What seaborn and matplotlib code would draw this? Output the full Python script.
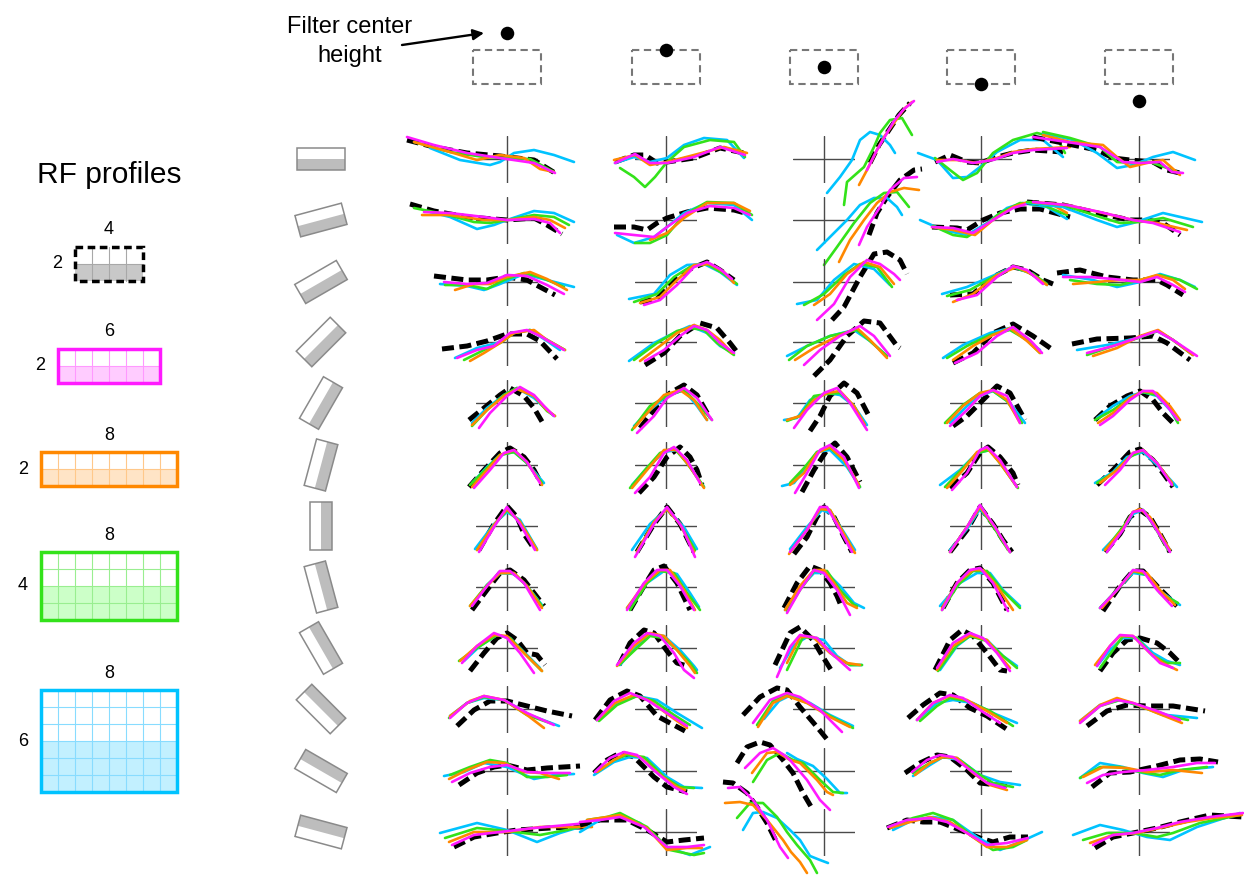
import numpy as np
import pandas as pd
import matplotlib
matplotlib.use("Agg")
import matplotlib.pyplot as plt
from matplotlib.patches import Rectangle, Polygon
import seaborn as sns

sns.set_style("white")
plt.rcParams["font.family"] = ["Liberation Sans", "DejaVu Sans"]
plt.rcParams["text.color"] = "black"

# ---------------------------------------------------------------------------
# Layout constants (pixels on a 1244 x 875 canvas)
W, H = 1244, 875
COL_X = [507, 666, 824, 981, 1139]
ROW_Y = [159, 220, 282, 342, 403, 465, 526, 587, 648, 709, 771, 832]
HALF_W, HALF_H = 31, 23.5          # crosshair half extents

# ---------------------------------------------------------------------------
# Data
ORIENTATIONS = [0, 15, 30, 45, 60, 75, 90, 105, 120, 135, 150, 165]   # bar angle (deg)
FILTER_HEIGHTS = [2, 1, 0, -1, -2]                                    # filter centre (cells)
PROFILE_NAMES = ["black", "magenta", "orange", "green", "cyan"]
PROFILE_W = [4, 6, 8, 8, 8]
PROFILE_H = [2, 2, 2, 4, 6]

# Tuning curves: for every orientation row and RF profile, one curve per
# filter-centre column, given as (position, response) pairs.
r01_black = [
    [(-100,19),(-73,12),(-40,6),(-7,3),(27,-1),(48,-14)],
    [(-51,-3),(-32,4),(-21,4),(-9,-4),(1,-3),(28,1),(54,11),(78,6)],
    [(46,-4),(55,14),(63,26),(75,44),(86,56)],
    [(-46,-3),(-31,4),(-14,-3),(-1,-4),(16,2),(32,6),(52,9),(82,7)],
    [(-106,22),(-76,16),(-42,9),(-26,1),(-9,-1),(14,-3),(28,-11),(41,-14)],
]
r01_magenta = [
    [(-100,22),(-73,14),(-40,6),(-7,1),(27,-4),(48,-14)],
    [(-51,-4),(-31,5),(-16,-4),(1,-4),(28,2),(54,12),(79,4)],
    [(43,-11),(53,9),(63,26),(70,38),(80,50),(90,58)],
    [(-44,-3),(-28,0),(-8,-4),(12,-1),(32,6),(52,9),(86,11)],
    [(-106,22),(-72,17),(-39,12),(-16,-3),(1,-4),(21,-3),(33,-13),(44,-14)],
]
r01_orange = [
    [(-93,17),(-57,7),(-30,-1),(-7,4),(17,1),(33,-10),(47,-13)],
    [(-52,-1),(-31,4),(-16,-6),(1,-3),(28,4),(58,12),(81,6)],
    [(35,-26),(43,-11),(53,9),(60,22),(70,36),(80,50),(88,57)],
    [(-44,-1),(-24,-1),(-4,-4),(16,1),(32,7),(52,10),(89,12)],
    [(-96,24),(-69,17),(-36,14),(-22,2),(-9,-8),(8,-4),(24,-1),(41,-16)],
]
r01_green = [
    [(-93,17),(-57,7),(-23,2),(0,1),(23,0),(47,-13)],
    [(-46,-9),(-32,-18),(-21,-28),(-11,-18),(1,-3),(18,12),(44,19),(68,17),(79,2)],
    [(20,-46),(23,-23),(40,-8),(50,12),(56,26),(66,39),(78,41),(88,24)],
    [(-46,1),(-31,-11),(-18,-21),(-4,-14),(12,6),(32,19),(56,26),(76,21),(84,6)],
    [(-96,27),(-69,21),(-39,12),(-22,-3),(-6,-4),(11,-3),(28,-9),(41,-14)],
]
r01_cyan = [
    [(-77,11),(-47,-1),(-17,-6),(-7,-3),(7,6),(27,9),(47,4),(67,-3)],
    [(-51,-4),(-32,2),(-16,-3),(1,1),(18,14),(38,21),(61,19),(78,1)],
    [(3,-34),(16,-18),(28,-1),(36,19),(46,27),(56,24),(66,14),(71,6)],
    [(-63,6),(-44,-1),(-28,-19),(-14,-18),(-1,-8),(16,7),(39,19),(62,19),(82,2)],
    [(-96,26),(-66,19),(-42,6),(-22,-9),(-6,-6),(14,2),(34,7),(56,-1)],
]

r02_black = [
    [(-97,16),(-73,9),(-40,3),(0,0),(27,2),(40,-5),(55,-14)],
    [(-52,-7),(-32,-7),(-19,-10),(-9,-3),(1,2),(21,8),(41,12),(68,10),(79,7)],
    [(45,-15),(53,7),(63,23),(76,40),(90,50),(98,51)],
    [(-49,-7),(-24,-8),(-14,-10),(2,0),(19,7),(39,11),(59,11),(89,3)],
    [(-112,18),(-76,15),(-42,7),(-9,0),(8,0),(24,-3),(41,-15)],
]
r02_magenta = [
    [(-83,8),(-57,7),(-23,3),(0,0),(27,1),(43,-3),(53,-13)],
    [(-51,-13),(-32,-15),(-12,-17),(1,-7),(21,7),(44,14),(68,12),(84,5)],
    [(35,-25),(43,-7),(56,13),(66,30),(80,42),(93,43)],
    [(-49,-7),(-28,-8),(-8,-13),(12,0),(32,12),(49,17),(79,15),(89,10)],
    [(-106,18),(-72,15),(-39,8),(-6,0),(14,-3),(41,-12)],
]
r02_orange = [
    [(-85,5),(-57,5),(-23,0),(0,0),(27,3),(43,0),(58,-8)],
    [(-16,-20),(1,-13),(18,2),(41,17),(68,17),(84,9)],
    [(15,-42),(26,-20),(40,0),(53,17),(66,28),(80,32),(95,30)],
    [(-49,-7),(-28,-10),(-6,-15),(12,0),(32,13),(47,18),(72,15),(86,7)],
    [(-106,18),(-72,15),(-36,7),(-6,0),(18,-3),(48,-10)],
]
r02_green = [
    [(-93,12),(-63,6),(-33,-2),(-17,-3),(0,0),(27,5),(47,3),(62,-5)],
    [(-31,-23),(-16,-23),(1,-15),(18,5),(41,18),(68,17),(86,5)],
    [(0,-45),(13,-27),(30,-3),(46,17),(60,27),(73,28),(85,13)],
    [(-48,-6),(-28,-15),(-14,-17),(2,-7),(19,7),(39,17),(62,15),(86,5)],
    [(-112,18),(-76,15),(-39,3),(-19,-3),(1,-2),(24,2),(54,-7)],
]
r02_cyan = [
    [(-77,8),(-57,3),(-30,-9),(-13,-5),(0,0),(27,9),(47,7),(67,-2)],
    [(-49,-15),(-32,-23),(-12,-17),(1,-7),(18,7),(41,17),(68,15),(86,0)],
    [(-7,-30),(6,-17),(23,0),(36,15),(50,22),(63,22),(73,13),(78,5)],
    [(-61,0),(-38,-10),(-14,-15),(6,-3),(26,12),(42,17),(66,13),(86,1)],
    [(-112,17),(-76,13),(-42,0),(-22,-7),(-6,-3),(24,7),(63,-2)],
]

r03_black = [
    [(-73,6),(-40,2),(-20,2),(0,5),(20,2),(33,-5),(48,-13)],
    [(-26,-20),(-9,-17),(8,2),(24,13),(41,20),(54,12),(68,2)],
    [(8,-38),(20,-25),(36,5),(50,28),(63,30),(76,22),(83,8)],
    [(-31,-13),(-8,-12),(12,5),(32,15),(46,12),(62,2),(72,-2)],
    [(-82,9),(-59,12),(-32,5),(-6,2),(18,2),(28,-3),(44,-13)],
]
r03_magenta = [
    [(-63,0),(-40,-2),(-20,-1),(0,7),(20,6),(40,-3),(57,-12)],
    [(-22,-23),(-6,-18),(11,-3),(28,15),(41,20),(54,13),(66,3)],
    [(-7,-38),(10,-22),(26,5),(43,22),(56,18),(70,8),(76,2)],
    [(-24,-18),(-4,-13),(16,5),(32,16),(46,12),(62,-2)],
    [(-76,5),(-49,5),(-26,3),(1,0),(18,5),(34,-3),(46,-10)],
]
r03_orange = [
    [(-52,-8),(-33,-2),(-17,-2),(0,5),(23,10),(40,3),(60,-8)],
    [(-26,-21),(-6,-15),(11,2),(28,17),(44,18),(58,10),(68,-1)],
    [(-10,-23),(6,-12),(23,8),(40,20),(56,15),(70,-2)],
    [(-28,-20),(-8,-12),(16,7),(36,15),(52,7),(66,-3)],
    [(-66,-2),(-42,0),(-19,2),(1,2),(18,7),(34,2),(46,-7)],
]
r03_green = [
    [(-62,-3),(-40,-3),(-20,-7),(-3,2),(17,9),(33,5),(57,-5)],
    [(-32,-20),(-9,-12),(8,5),(24,15),(41,18),(58,8),(71,-2)],
    [(-20,-23),(0,-12),(20,7),(36,18),(53,15),(68,-5)],
    [(-34,-14),(-11,-8),(12,5),(32,15),(52,8),(66,-2)],
    [(-69,2),(-42,-2),(-19,-3),(1,2),(21,7),(41,2),(58,-7)],
]
r03_cyan = [
    [(-67,-2),(-40,-4),(-23,-8),(-7,-2),(17,8),(40,2),(67,-5)],
    [(-37,-17),(-12,-12),(4,7),(21,17),(38,18),(54,10),(71,-3)],
    [(-27,-22),(-7,-18),(10,2),(30,18),(50,13),(66,-3)],
    [(-39,-12),(-14,-5),(9,5),(32,15),(52,8),(66,-3)],
    [(-76,7),(-46,2),(-22,-5),(1,0),(21,8),(41,2),(56,-5)],
]

r04_black = [
    [(-65,-7),(-40,-4),(-20,1),(0,8),(20,8),(33,1),(50,-17)],
    [(-21,-23),(-2,-11),(14,6),(34,19),(51,14),(64,-1),(71,-10)],
    [(-10,-34),(6,-18),(23,6),(40,21),(56,19),(73,-4),(76,-6)],
    [(-28,-21),(-8,-11),(12,9),(32,18),(52,6),(72,-8)],
    [(-67,-2),(-42,3),(-9,4),(14,6),(28,-1),(51,-18)],
]
r04_magenta = [
    [(-50,-16),(-30,-8),(-13,-4),(3,9),(20,12),(33,6),(57,-8)],
    [(-21,-19),(-2,-8),(14,6),(28,16),(41,12),(54,-1),(68,-11)],
    [(-20,-23),(-4,-8),(16,6),(36,16),(50,6),(66,-14)],
    [(-26,-21),(-4,-11),(16,6),(32,15),(49,2),(61,-11)],
    [(-52,-11),(-26,-4),(-2,4),(18,11),(34,2),(58,-14)],
]
r04_orange = [
    [(-37,-19),(-23,-11),(-7,-1),(7,9),(27,12),(40,2),(58,-8)],
    [(-26,-19),(-6,-4),(11,9),(28,17),(41,12),(54,2),(66,-11)],
    [(-29,-18),(-10,-6),(10,4),(33,14),(46,2),(63,-16)],
    [(-28,-18),(-8,-4),(12,7),(29,14),(46,1),(59,-11)],
    [(-46,-14),(-22,-6),(1,6),(19,12),(34,2),(54,-13)],
]
r04_green = [
    [(-43,-18),(-23,-8),(-7,-1),(7,9),(23,12),(37,4),(58,-8)],
    [(-32,-18),(-9,-1),(11,11),(24,14),(38,12),(51,-1),(68,-13)],
    [(-35,-18),(-17,-4),(6,6),(33,12),(46,1),(63,-14)],
    [(-34,-16),(-14,-4),(9,7),(29,12),(46,2),(59,-11)],
    [(-52,-13),(-26,-4),(-1,4),(19,11),(34,2),(54,-13)],
]
r04_cyan = [
    [(-52,-16),(-30,-6),(-10,-1),(7,9),(23,12),(40,1),(53,-8)],
    [(-37,-19),(-12,-1),(8,9),(24,16),(41,9),(54,-4),(68,-11)],
    [(-37,-14),(-17,-4),(6,6),(30,12),(46,1),(63,-14)],
    [(-38,-16),(-18,-3),(9,9),(29,14),(46,2),(59,-8)],
    [(-62,-8),(-32,-3),(-2,4),(18,11),(34,2),(54,-13)],
]

r05_black = [
    [(-38,-17),(-23,-5),(-7,8),(3,15),(17,7),(27,-5),(37,-22)],
    [(-26,-25),(-9,-3),(4,10),(18,18),(31,8),(44,-15)],
    [(-14,-28),(-4,-13),(6,7),(20,20),(33,10),(45,-13)],
    [(-28,-23),(-14,-13),(-1,0),(16,17),(29,10),(44,-17)],
    [(-44,-17),(-29,-3),(-12,7),(1,12),(14,3),(24,-10),(36,-22)],
]
r05_magenta = [
    [(-28,-25),(-17,-10),(0,7),(13,16),(27,8),(37,-3),(47,-13)],
    [(-29,-30),(-12,-13),(1,5),(18,15),(31,5),(46,-17)],
    [(-30,-25),(-17,-7),(0,10),(13,15),(26,0),(43,-27)],
    [(-31,-23),(-14,-7),(-1,7),(12,13),(26,7),(39,-20)],
    [(-39,-22),(-26,-13),(-9,3),(4,12),(14,12),(28,-3),(39,-17)],
]
r05_orange = [
    [(-35,-22),(-20,-7),(-3,7),(10,14),(27,7),(40,-7),(48,-13)],
    [(-32,-25),(-16,-7),(-2,8),(14,13),(28,3),(41,-17)],
    [(-37,-17),(-24,-13),(-10,3),(3,10),(16,12),(30,-3),(41,-22)],
    [(-34,-20),(-18,-3),(-1,10),(12,13),(26,3),(39,-20)],
    [(-41,-20),(-26,-10),(-9,5),(4,12),(18,10),(31,-3),(41,-17)],
]
r05_green = [
    [(-35,-23),(-20,-7),(-3,8),(10,15),(27,7),(40,-8),(48,-13)],
    [(-34,-27),(-16,-3),(1,7),(18,13),(31,0),(46,-17)],
    [(-37,-18),(-24,-13),(-10,7),(3,9),(16,10),(30,-3),(41,-23)],
    [(-36,-20),(-18,-2),(-1,10),(12,12),(26,2),(41,-20)],
    [(-44,-17),(-26,-7),(-9,5),(4,11),(18,8),(31,-5),(39,-20)],
]
r05_cyan = [
    [(-35,-20),(-20,-5),(-3,8),(10,15),(27,5),(40,-7),(47,-13)],
    [(-32,-23),(-16,-7),(1,7),(18,13),(31,-3),(41,-17)],
    [(-40,-17),(-27,-15),(-14,3),(3,10),(16,8),(30,-3),(43,-22)],
    [(-31,-20),(-14,-3),(-1,7),(12,12),(29,0),(44,-20)],
    [(-42,-15),(-26,-3),(-9,7),(4,11),(18,7),(31,-7),(38,-18)],
]

r06_black = [
    [(-38,-22),(-23,-5),(-7,12),(3,17),(17,8),(27,-5),(35,-20)],
    [(-27,-28),(-12,-12),(1,8),(14,18),(24,8),(31,-5),(36,-20)],
    [(-22,-27),(-10,-5),(3,15),(11,22),(23,8),(36,-17)],
    [(-31,-23),(-14,-8),(-1,12),(7,18),(19,8),(32,-8),(37,-20)],
    [(-42,-20),(-26,-5),(-9,13),(1,16),(14,5),(24,-8),(34,-22)],
]
r06_magenta = [
    [(-33,-23),(-17,-5),(-3,12),(7,15),(20,3),(33,-18)],
    [(-31,-28),(-16,-12),(-2,12),(8,18),(21,5),(34,-18)],
    [(-29,-28),(-17,-8),(-4,15),(6,20),(20,8),(35,-23)],
    [(-29,-25),(-14,-8),(-1,15),(6,18),(19,5),(36,-22)],
    [(-34,-20),(-19,-5),(-6,12),(4,15),(18,2),(33,-20)],
]
r06_orange = [
    [(-35,-22),(-20,-5),(-7,10),(7,15),(20,3),(35,-20)],
    [(-34,-23),(-19,-5),(-2,15),(11,15),(24,-2),(38,-23)],
    [(-34,-20),(-20,-8),(-7,12),(6,18),(20,5),(35,-20)],
    [(-34,-23),(-18,-5),(-4,13),(6,17),(19,2),(36,-22)],
    [(-39,-18),(-22,-5),(-6,12),(4,15),(18,2),(33,-18)],
]
r06_green = [
    [(-37,-20),(-20,-3),(-7,10),(7,13),(20,2),(35,-18)],
    [(-36,-23),(-21,-5),(-6,12),(8,17),(21,2),(38,-22)],
    [(-34,-18),(-20,-3),(-7,13),(6,17),(20,5),(36,-22)],
    [(-36,-22),(-18,-3),(-4,12),(9,15),(22,-2),(37,-23)],
    [(-42,-18),(-26,-8),(-9,8),(4,15),(18,2),(34,-20)],
]
r06_cyan = [
    [(-35,-18),(-20,-2),(-7,10),(7,13),(20,2),(37,-18)],
    [(-34,-20),(-19,-3),(-2,13),(11,15),(24,-2),(38,-22)],
    [(-42,-21),(-30,-18),(-20,-5),(-7,13),(6,15),(23,-2),(36,-22)],
    [(-41,-20),(-21,-5),(-4,12),(9,15),(22,-2),(36,-22)],
    [(-44,-18),(-26,-7),(-12,8),(4,13),(18,0),(38,-22)],
]

r07_black = [
    [(-28,-24),(-13,2),(0,20),(10,9),(17,-8),(28,-24)],
    [(-29,-26),(-12,2),(1,19),(14,2),(28,-26)],
    [(-30,-28),(-17,-11),(-7,9),(0,19),(10,9),(20,-11),(28,-26)],
    [(-31,-26),(-14,-4),(-1,19),(12,2),(22,-14),(31,-26)],
    [(-34,-26),(-19,-8),(-9,9),(1,16),(11,9),(21,-8),(31,-26)],
]
r07_magenta = [
    [(-28,-26),(-13,-1),(0,19),(13,2),(28,-24)],
    [(-31,-31),(-12,2),(1,19),(16,-1),(29,-31)],
    [(-34,-26),(-17,-4),(-4,19),(3,19),(16,-4),(28,-26)],
    [(-31,-26),(-14,-1),(-1,21),(14,-1),(29,-26)],
    [(-32,-26),(-16,-4),(-6,14),(4,16),(14,2),(31,-26)],
]
r07_orange = [
    [(-30,-24),(-13,1),(0,17),(13,4),(30,-24)],
    [(-29,-26),(-12,4),(1,17),(14,2),(28,-26)],
    [(-35,-28),(-17,-4),(-4,17),(6,16),(20,-8),(31,-27)],
    [(-31,-26),(-14,-1),(-1,19),(14,-1),(29,-26)],
    [(-34,-24),(-16,-3),(-6,14),(1,17),(11,9),(31,-24)],
]
r07_green = [
    [(-30,-24),(-13,1),(0,16),(13,4),(30,-24)],
    [(-29,-26),(-12,4),(1,17),(14,2),(29,-24)],
    [(-34,-26),(-17,-4),(-4,17),(6,16),(20,-8),(30,-26)],
    [(-31,-26),(-14,-1),(-1,19),(12,0),(27,-24)],
    [(-34,-24),(-16,-1),(-6,14),(4,16),(14,2),(29,-24)],
]
r07_cyan = [
    [(-32,-23),(-13,2),(0,14),(13,6),(30,-23)],
    [(-34,-24),(-16,2),(1,17),(18,-1),(31,-23)],
    [(-34,-23),(-17,-1),(-2,16),(8,12),(21,-8),(31,-24)],
    [(-31,-24),(-14,-3),(-1,17),(14,-1),(29,-26)],
    [(-36,-24),(-16,-3),(-6,12),(4,16),(16,-1),(31,-24)],
]

r08_black = [
    [(-35,-23),(-20,-3),(-7,14),(3,17),(17,7),(37,-19)],
    [(-36,-23),(-22,1),(-12,17),(-2,21),(11,4),(24,-23)],
    [(-40,-21),(-27,4),(-14,21),(-4,17),(6,4),(13,-9),(18,-21)],
    [(-38,-21),(-24,4),(-11,17),(-1,19),(12,4),(26,-23)],
    [(-36,-24),(-19,1),(-6,16),(4,16),(18,1),(38,-19)],
]
r08_magenta = [
    [(-35,-19),(-20,1),(-7,16),(3,16),(17,4),(33,-23)],
    [(-39,-23),(-22,4),(-9,17),(1,17),(14,1),(28,-23)],
    [(-37,-26),(-24,-3),(-10,17),(0,14),(13,-3),(26,-28)],
    [(-39,-23),(-24,4),(-11,17),(-1,19),(12,4),(27,-24)],
    [(-39,-21),(-22,-3),(-6,17),(4,16),(18,-3),(33,-19)],
]
r08_orange = [
    [(-37,-19),(-20,1),(-7,14),(7,14),(20,1),(35,-21)],
    [(-39,-21),(-21,4),(-6,17),(4,17),(18,-3),(29,-23)],
    [(-39,-23),(-24,1),(-10,17),(0,17),(10,4),(23,-16),(33,-21)],
    [(-39,-21),(-24,4),(-8,17),(2,17),(16,1),(32,-23)],
    [(-37,-21),(-22,-3),(-6,16),(8,14),(21,-3),(36,-18)],
]
r08_green = [
    [(-37,-19),(-20,2),(-7,14),(7,14),(20,1),(35,-19)],
    [(-36,-23),(-19,4),(-6,16),(8,14),(21,-6),(34,-23)],
    [(-37,-24),(-24,-3),(-10,16),(3,16),(16,-3),(30,-18),(33,-19)],
    [(-39,-23),(-23,2),(-8,16),(6,16),(21,-3),(39,-21)],
    [(-39,-21),(-22,-3),(-6,16),(8,12),(21,-6),(39,-16)],
]
r08_cyan = [
    [(-35,-18),(-20,2),(-7,14),(7,13),(20,1),(35,-18)],
    [(-39,-21),(-19,4),(-2,16),(11,13),(24,-6),(33,-20)],
    [(-39,-23),(-24,-1),(-10,14),(3,14),(16,1),(30,-16),(40,-21)],
    [(-41,-19),(-21,4),(-4,14),(9,14),(22,-3),(39,-19)],
    [(-39,-21),(-22,-3),(-6,14),(8,12),(21,-4),(41,-18)],
]

r09_black = [
    [(-37,-23),(-23,-5),(-10,10),(0,15),(10,8),(20,-5),(30,-7),(38,-17)],
    [(-47,-17),(-36,5),(-22,18),(-12,15),(1,-3),(11,-15),(21,-18)],
    [(-49,-17),(-34,15),(-24,21),(-11,8),(-1,-9),(9,-25)],
    [(-46,-22),(-31,8),(-19,18),(-8,12),(6,-5),(19,-22),(26,-23)],
    [(-39,-23),(-26,-5),(-12,8),(1,10),(18,5),(31,-5),(39,-13)],
]
r09_magenta = [
    [(-45,-15),(-30,2),(-13,15),(0,10),(13,-5),(27,-25)],
    [(-49,-17),(-32,5),(-19,15),(-6,12),(8,-5),(18,-22),(28,-30)],
    [(-47,-29),(-34,1),(-24,13),(-7,10),(6,-4),(26,-22)],
    [(-44,-20),(-28,5),(-11,15),(2,10),(16,-5),(29,-23)],
    [(-42,-18),(-29,2),(-19,13),(-6,12),(8,-2),(21,-15),(34,-20)],
]
r09_orange = [
    [(-47,-13),(-30,2),(-13,13),(0,12),(17,-5),(35,-23)],
    [(-49,-18),(-32,2),(-16,15),(-2,12),(11,-2),(24,-18),(29,-25)],
    [(-37,-15),(-24,11),(-11,11),(6,-5),(23,-15),(36,-17)],
    [(-44,-22),(-28,2),(-11,13),(6,8),(19,-8),(29,-20)],
    [(-44,-17),(-29,2),(-19,12),(-6,12),(11,-5),(24,-15),(38,-22)],
]
r09_green = [
    [(-48,-13),(-30,0),(-10,13),(3,10),(20,-8),(35,-23)],
    [(-47,-17),(-29,0),(-16,12),(-2,10),(11,-2),(24,-15),(31,-25)],
    [(-37,-22),(-21,11),(-7,10),(10,-8),(26,-17),(38,-17)],
    [(-43,-23),(-24,3),(-11,12),(6,7),(22,-8),(36,-20)],
    [(-39,-20),(-26,-2),(-16,12),(-2,10),(14,-8),(28,-15),(41,-15)],
]
r09_cyan = [
    [(-43,-13),(-27,2),(-10,13),(3,10),(20,-7),(33,-20)],
    [(-46,-17),(-29,2),(-16,13),(-2,12),(14,-2),(28,-18),(31,-22)],
    [(-44,-20),(-30,3),(-17,11),(0,8),(13,-8),(26,-17),(38,-17)],
    [(-41,-22),(-24,2),(-11,12),(6,8),(22,-8),(36,-18)],
    [(-42,-18),(-29,-2),(-16,10),(-2,10),(14,-5),(28,-13),(41,-17)],
]

r10_black = [
    [(-50,-17),(-33,-1),(-17,8),(0,8),(20,3),(40,-2),(65,-7)],
    [(-71,-11),(-56,9),(-39,18),(-26,13),(-9,-7),(4,-14),(19,-22)],
    [(-81,-6),(-64,12),(-47,21),(-37,19),(-24,2),(-7,-18),(6,-34)],
    [(-73,-9),(-58,4),(-41,16),(-28,14),(-11,1),(6,-7),(27,-21)],
    [(-52,-17),(-32,-2),(-12,4),(8,3),(34,3),(66,-2)],
]
r10_magenta = [
    [(-57,-9),(-40,6),(-23,13),(-3,9),(20,-4),(47,-16)],
    [(-69,-11),(-52,8),(-36,16),(-19,9),(1,-4),(21,-17)],
    [(-71,-14),(-54,9),(-37,16),(-24,12),(-4,-1),(18,-23)],
    [(-64,-11),(-48,6),(-31,14),(-18,11),(-1,-1),(19,-14)],
    [(-59,-14),(-39,3),(-22,9),(-6,6),(18,-2),(41,-11)],
]
r10_orange = [
    [(-57,-7),(-37,8),(-23,13),(-3,9),(20,-6),(37,-19)],
    [(-69,-11),(-51,6),(-32,14),(-16,8),(4,-7),(21,-19)],
    [(-66,-18),(-51,6),(-37,13),(-17,6),(6,-8),(26,-18)],
    [(-64,-11),(-48,6),(-31,13),(-14,9),(6,-2),(26,-14)],
    [(-59,-12),(-39,4),(-22,11),(-6,6),(18,-4),(43,-14)],
]
r10_green = [
    [(-58,-9),(-40,6),(-23,12),(-3,9),(20,-6),(43,-14)],
    [(-67,-12),(-49,4),(-29,13),(-12,8),(8,-6),(24,-16)],
    [(-67,-16),(-51,8),(-37,14),(-14,5),(6,-7),(29,-19)],
    [(-61,-12),(-44,3),(-31,11),(-14,8),(9,-2),(32,-17)],
    [(-57,-12),(-39,3),(-19,9),(-2,4),(24,-6),(49,-11)],
]
r10_cyan = [
    [(-57,-7),(-40,6),(-23,11),(-3,9),(23,-6),(52,-17)],
    [(-69,-11),(-49,6),(-29,13),(-9,9),(11,-4),(36,-19)],
    [(-60,-10),(-45,8),(-33,14),(-14,6),(6,-6),(29,-17)],
    [(-64,-11),(-44,6),(-28,9),(-8,6),(12,-4),(36,-14)],
    [(-59,-12),(-39,4),(-19,9),(1,3),(28,-6),(58,-9)],
]

r11_black = [
    [(-48,-14),(-30,-2),(-13,4),(0,6),(20,1),(40,3),(73,5)],
    [(-72,-2),(-59,11),(-46,18),(-32,14),(-12,-6),(1,-16),(21,-21)],
    [(-87,8),(-77,24),(-64,29),(-54,26),(-41,11),(-31,-2),(-21,-22),(-11,-39)],
    [(-76,-2),(-61,8),(-44,16),(-31,14),(-14,1),(-1,-12),(16,-14),(31,-14)],
    [(-47,-16),(-29,-2),(-9,-1),(14,4),(41,11),(61,12),(79,9)],
]
r11_magenta = [
    [(-55,-11),(-37,-2),(-17,4),(0,6),(20,-1),(43,-2),(63,-2)],
    [(-71,-1),(-56,13),(-42,19),(-29,16),(-9,-2),(8,-16),(21,-23)],
    [(-79,3),(-64,18),(-51,23),(-40,16),(-34,11),(-17,-9),(-4,-29),(6,-39)],
    [(-69,-1),(-54,11),(-41,16),(-28,14),(-11,1),(6,-12),(24,-17)],
    [(-52,-12),(-36,-4),(-16,-1),(8,1),(34,4),(58,8),(76,8)],
]
r11_orange = [
    [(-58,-8),(-40,1),(-20,9),(-3,8),(17,-1),(33,-2),(52,-8)],
    [(-69,-1),(-52,11),(-39,18),(-26,14),(-6,-4),(11,-16),(19,-19)],
    [(-72,-2),(-57,18),(-47,19),(-34,11),(-24,8),(-7,-9),(3,-21),(9,-24)],
    [(-66,-4),(-51,8),(-38,14),(-24,13),(-8,-2),(9,-14),(26,-19)],
    [(-56,-6),(-36,4),(-12,3),(8,-1),(34,1),(63,-2)],
]
r11_green = [
    [(-57,-4),(-37,4),(-17,11),(0,8),(20,-6),(40,-6),(60,-4)],
    [(-69,-1),(-52,11),(-39,16),(-22,14),(-2,-6),(14,-16),(28,-17)],
    [(-71,-11),(-57,11),(-44,18),(-31,11),(-21,8),(-4,-9),(9,-21),(19,-22)],
    [(-68,-2),(-51,8),(-38,14),(-24,13),(-4,-2),(12,-12),(32,-16)],
    [(-59,-7),(-39,4),(-19,4),(1,-1),(21,-4),(41,1),(68,4)],
]
r11_cyan = [
    [(-63,-5),(-43,-1),(-23,8),(0,4),(27,-8),(47,-4),(67,-3)],
    [(-72,-4),(-52,9),(-36,14),(-19,13),(1,-6),(18,-16),(36,-17)],
    [(-37,18),(-27,12),(-11,5),(3,-8),(16,-22),(23,-22)],
    [(-68,-5),(-51,6),(-38,14),(-21,11),(-1,-4),(19,-11),(39,-14)],
    [(-59,-7),(-39,8),(-16,4),(4,-2),(24,-6),(44,1),(74,4)],
]

r12_black = [
    [(-53,-15),(-33,-5),(-10,-1),(10,2),(43,4),(67,5),(83,5)],
    [(-86,7),(-66,12),(-39,12),(-19,2),(1,-10),(18,-8),(38,-6)],
    [(-101,50),(-91,49),(-77,39),(-67,25),(-57,9),(-47,-11)],
    [(-94,4),(-74,12),(-58,10),(-41,10),(-21,2),(-1,-6),(12,-10),(29,-5),(47,-5)],
    [(-44,-16),(-26,-5),(-6,-1),(18,4),(41,10),(71,17),(104,15)],
]
r12_magenta = [
    [(-55,-13),(-33,-3),(-7,0),(27,4),(60,7),(80,9)],
    [(-86,10),(-66,12),(-46,15),(-22,5),(1,-15),(21,-15),(38,-13)],
    [(-96,44),(-84,45),(-71,32),(-57,12),(-44,-15),(-36,-26)],
    [(-93,5),(-74,12),(-51,14),(-34,10),(-14,-1),(6,-13),(26,-11),(47,-6)],
    [(-46,-13),(-26,-3),(-6,-1),(18,4),(41,10),(71,15),(104,19)],
]
r12_orange = [
    [(-58,-10),(-33,0),(0,0),(33,5),(67,5),(85,5)],
    [(-79,12),(-59,15),(-46,17),(-19,4),(1,-18),(21,-16),(36,-16)],
    [(-99,29),(-84,30),(-71,27),(-57,12),(-41,-8),(-33,-20),(-24,-30),(-17,-41)],
    [(-91,4),(-71,10),(-51,15),(-31,10),(-11,-3),(6,-15),(26,-15),(46,-8)],
    [(-49,-11),(-26,-3),(-2,-1),(21,4),(48,10),(74,14),(103,17)],
]
r12_green = [
    [(-62,-6),(-30,4),(0,1),(33,-3),(60,2),(80,7)],
    [(-79,12),(-59,15),(-46,19),(-19,5),(4,-18),(28,-23),(38,-21)],
    [(-87,14),(-74,29),(-61,29),(-47,15),(-37,0),(-27,-13),(-14,-28),(-7,-41)],
    [(-91,5),(-68,14),(-48,19),(-28,12),(-8,-5),(12,-18),(32,-15),(46,-8)],
    [(-56,-8),(-32,-1),(-6,-1),(18,-5),(34,-1),(61,9),(101,17)],
]
r12_cyan = [
    [(-67,-1),(-30,9),(0,2),(30,-10),(53,-1),(73,5)],
    [(-86,0),(-66,12),(-49,17),(-26,9),(1,-15),(24,-23),(44,-15)],
    [(-81,2),(-71,19),(-61,20),(-47,14),(-34,2),(-24,-8),(-14,-24),(-4,-28),(4,-31)],
    [(-88,2),(-68,12),(-48,15),(-28,12),(-4,-5),(19,-18),(39,-10),(61,0)],
    [(-66,-3),(-39,7),(-16,2),(8,-5),(31,-8),(58,5),(101,19)],
]

ROWS = [
    dict(black=r01_black, magenta=r01_magenta, orange=r01_orange, green=r01_green, cyan=r01_cyan),
    dict(black=r02_black, magenta=r02_magenta, orange=r02_orange, green=r02_green, cyan=r02_cyan),
    dict(black=r03_black, magenta=r03_magenta, orange=r03_orange, green=r03_green, cyan=r03_cyan),
    dict(black=r04_black, magenta=r04_magenta, orange=r04_orange, green=r04_green, cyan=r04_cyan),
    dict(black=r05_black, magenta=r05_magenta, orange=r05_orange, green=r05_green, cyan=r05_cyan),
    dict(black=r06_black, magenta=r06_magenta, orange=r06_orange, green=r06_green, cyan=r06_cyan),
    dict(black=r07_black, magenta=r07_magenta, orange=r07_orange, green=r07_green, cyan=r07_cyan),
    dict(black=r08_black, magenta=r08_magenta, orange=r08_orange, green=r08_green, cyan=r08_cyan),
    dict(black=r09_black, magenta=r09_magenta, orange=r09_orange, green=r09_green, cyan=r09_cyan),
    dict(black=r10_black, magenta=r10_magenta, orange=r10_orange, green=r10_green, cyan=r10_cyan),
    dict(black=r11_black, magenta=r11_magenta, orange=r11_orange, green=r11_green, cyan=r11_cyan),
    dict(black=r12_black, magenta=r12_magenta, orange=r12_orange, green=r12_green, cyan=r12_cyan),
]

# ---------------------------------------------------------------------------
# Styles
LINE_COLORS = {"black": "#000000", "magenta": "#ff1aff", "orange": "#ff8800",
               "green": "#33e21a", "cyan": "#00c3ff"}
FILL_COLORS = {"black": "#c8c8c8", "magenta": "#ffccff", "orange": "#ffe4c6",
               "green": "#ccffc8", "cyan": "#c2f0ff"}
GRID_COLORS = {"black": "#a8a8a8", "magenta": "#ff99ff", "orange": "#ffc88a",
               "green": "#99ee90", "cyan": "#88dcff"}
DRAW_ORDER = ["black", "cyan", "green", "orange", "magenta"]
LINE_WIDTHS = {"black": 3.6, "magenta": 1.9, "orange": 1.9, "green": 1.9, "cyan": 1.9}
LINE_DASHES = {"black": (2.4, 1.1), "magenta": "", "orange": "", "green": "", "cyan": ""}

fig = plt.figure(figsize=(W / 100, H / 100), dpi=100)

# Background canvas in pixel units for the annotations and legend graphics
bg = fig.add_axes([0, 0, 1, 1])
bg.set_xlim(0, W)
bg.set_ylim(H, 0)
bg.axis("off")

# --- RF profile legend -----------------------------------------------------
CELL = 17
LEGEND_CX = 109
LEGEND_TOPS = [247, 349, 452, 552, 690]
bg.text(LEGEND_CX, 175, "RF profiles", ha="center", va="center", fontsize=21.5)
for name, nw, nh, top in zip(PROFILE_NAMES, PROFILE_W, PROFILE_H, LEGEND_TOPS):
    left = LEGEND_CX - nw * CELL / 2
    bw, bh = nw * CELL, nh * CELL
    bg.add_patch(Rectangle((left, top + bh / 2), bw, bh / 2,
                           facecolor=FILL_COLORS[name], edgecolor="none", zorder=1))
    for i in range(1, nw):
        bg.plot([left + i * CELL] * 2, [top, top + bh], color=GRID_COLORS[name], lw=0.8, zorder=2)
    for j in range(1, nh):
        bg.plot([left, left + bw], [top + j * CELL] * 2, color=GRID_COLORS[name], lw=0.8, zorder=2)
    ls = (0, (2.2, 1.3)) if name == "black" else "-"
    bg.add_patch(Rectangle((left, top), bw, bh, fill=False, edgecolor=LINE_COLORS[name],
                           lw=2.5, linestyle=ls, joinstyle="miter", zorder=3))
    bg.text(LEGEND_CX, top - 17, str(nw), ha="center", va="center", fontsize=13)
    bg.text(left - 18, top + bh / 2, str(nh), ha="center", va="center", fontsize=13)

# --- oriented bar icons ----------------------------------------------------
ICON_X, ICON_L, ICON_T = 321, 24, 11
for ang, cy in zip(ORIENTATIONS, ROW_Y):
    t = np.deg2rad(ang)
    rot = np.array([[np.cos(t), -np.sin(t)], [np.sin(t), np.cos(t)]])

    def to_canvas(pts):
        p = np.asarray(pts, float) @ rot.T
        return np.column_stack([ICON_X + p[:, 0], cy - p[:, 1]])

    top_half = [(-ICON_L, 0), (ICON_L, 0), (ICON_L, ICON_T), (-ICON_L, ICON_T)]
    low_half = [(-ICON_L, -ICON_T), (ICON_L, -ICON_T), (ICON_L, 0), (-ICON_L, 0)]
    outline = [(-ICON_L, -ICON_T), (ICON_L, -ICON_T), (ICON_L, ICON_T), (-ICON_L, ICON_T)]
    bg.add_patch(Polygon(to_canvas(top_half), closed=True, facecolor="white", edgecolor="none"))
    bg.add_patch(Polygon(to_canvas(low_half), closed=True, facecolor="#bdbdbd", edgecolor="none"))
    bg.add_patch(Polygon(to_canvas(outline), closed=True, fill=False, edgecolor="#8a8a8a", lw=1.1))

# --- filter centre height markers ------------------------------------------
BOX_Y = 67
for cx in COL_X:
    bg.add_patch(Rectangle((cx - 2 * CELL, BOX_Y - CELL), 4 * CELL, 2 * CELL, fill=False,
                           edgecolor="#777777", lw=1.5, linestyle=(0, (3.5, 2.2))))
dots = pd.DataFrame({"x": COL_X, "y": [BOX_Y - h * CELL for h in FILTER_HEIGHTS]})
sns.scatterplot(data=dots, x="x", y="y", color="black", s=95, linewidth=0,
                legend=False, ax=bg, zorder=5)
bg.set_xlim(0, W)
bg.set_ylim(H, 0)
bg.axis("off")

bg.text(350, 33, "Filter center", ha="center", va="baseline", fontsize=17)
bg.text(350, 62, "height", ha="center", va="baseline", fontsize=17)
bg.annotate("", xy=(484, 33), xytext=(402, 45),
            arrowprops=dict(arrowstyle="-|>", color="black", lw=1.7, mutation_scale=16,
                            shrinkA=0, shrinkB=0))

# --- tuning curve panels ---------------------------------------------------
for r, (row, cy) in enumerate(zip(ROWS, ROW_Y)):
    for c, cx in enumerate(COL_X):
        ax = fig.add_axes([(cx - HALF_W) / W, 1 - (cy + HALF_H) / H,
                           2 * HALF_W / W, 2 * HALF_H / H])
        ax.set_facecolor("none")
        ax.axhline(0, color="#4a4a4a", lw=1.0, zorder=0.5)
        ax.axvline(0, color="#4a4a4a", lw=1.0, zorder=0.5)
        recs = []
        for name in DRAW_ORDER:
            for k, (x, y) in enumerate(row[name][c]):
                recs.append((name, k, x, y))
        df = pd.DataFrame(recs, columns=["profile", "k", "x", "y"])
        sns.lineplot(data=df, x="x", y="y", hue="profile", hue_order=DRAW_ORDER,
                     palette=LINE_COLORS, size="profile", size_order=DRAW_ORDER,
                     sizes=LINE_WIDTHS, style="profile", style_order=DRAW_ORDER,
                     dashes=LINE_DASHES, estimator=None, sort=False, legend=False, ax=ax)
        for ln in ax.lines[2:]:
            ln.set_clip_on(False)
            ln.set_solid_capstyle("round")
            ln.set_solid_joinstyle("round")
            ln.set_dash_joinstyle("round")
        ax.set_xlim(-HALF_W, HALF_W)
        ax.set_ylim(-HALF_H, HALF_H)
        ax.axis("off")

fig.savefig("out.png", dpi=100)
